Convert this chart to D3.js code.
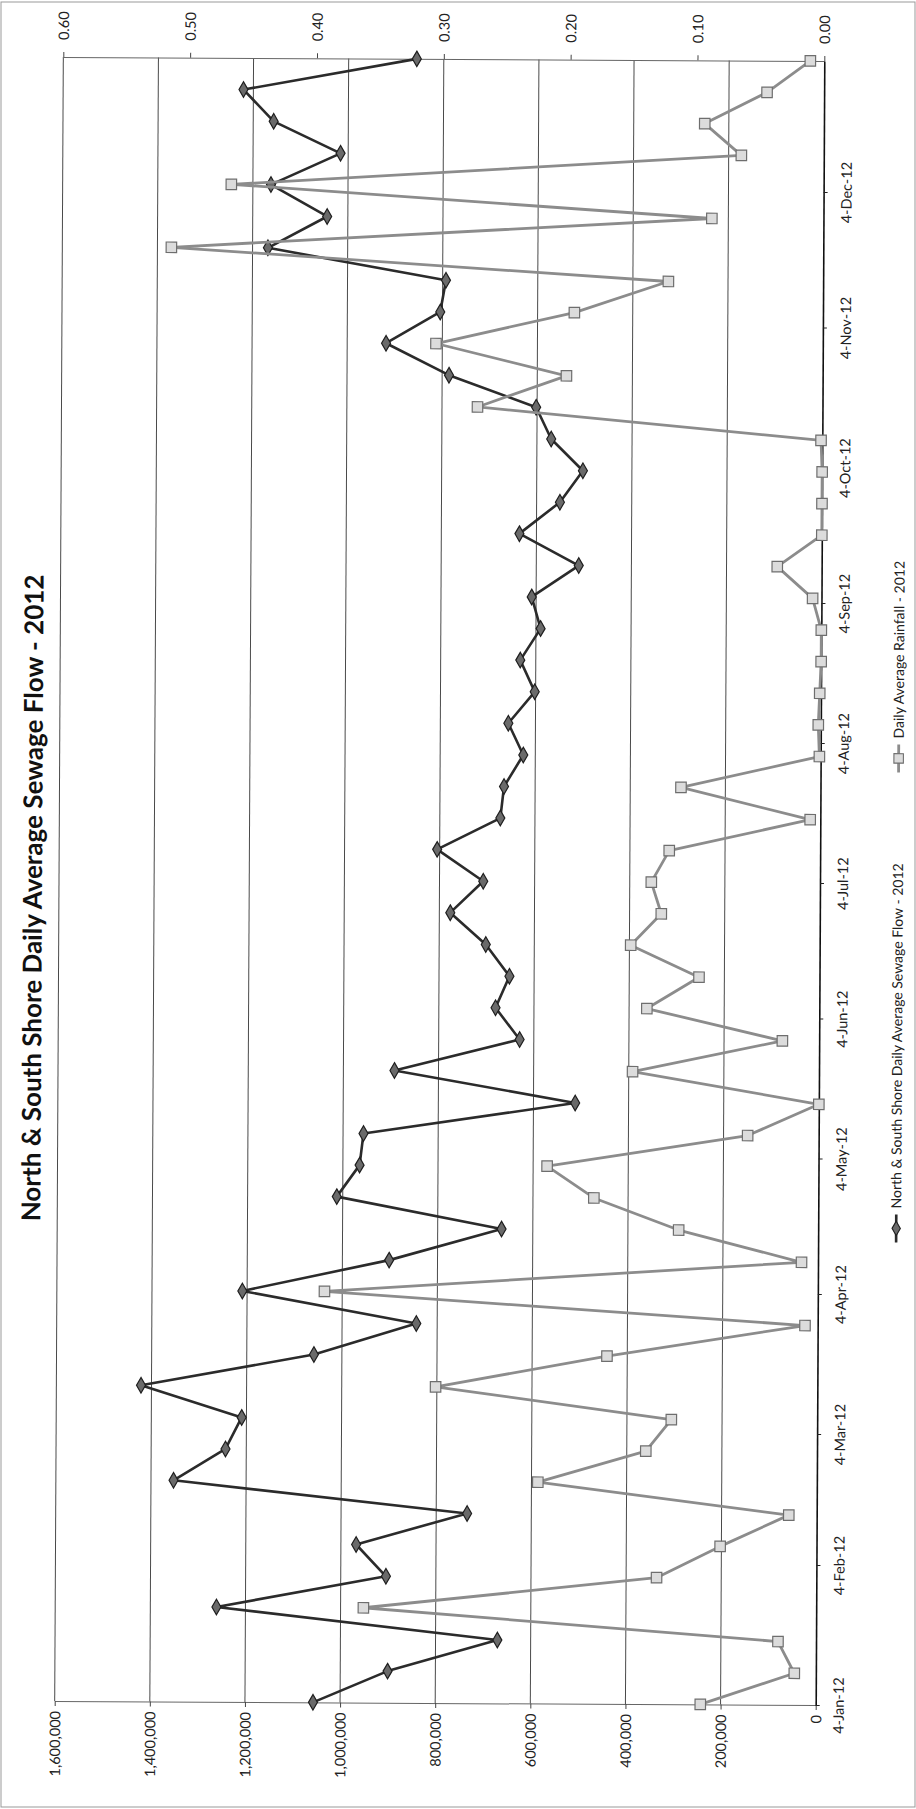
<!DOCTYPE html>
<html>
<head>
<meta charset="utf-8">
<script src="https://cdn.jsdelivr.net/npm/d3@7"></script>
<style>
  body { margin: 0; background: #fff; }
  text { font-family: Lato, "Liberation Sans", sans-serif; }
</style>
</head>
<body>
<div id="chart"></div>
<script>
// weekly readings, 2012
const weeks = [
  "2012-01-04", "2012-01-11", "2012-01-18", "2012-01-25", "2012-02-01", "2012-02-08",
  "2012-02-15", "2012-02-22", "2012-02-29", "2012-03-07", "2012-03-14", "2012-03-21",
  "2012-03-28", "2012-04-04", "2012-04-11", "2012-04-18", "2012-04-25", "2012-05-02",
  "2012-05-09", "2012-05-16", "2012-05-23", "2012-05-30", "2012-06-06", "2012-06-13",
  "2012-06-20", "2012-06-27", "2012-07-04", "2012-07-11", "2012-07-18", "2012-07-25",
  "2012-08-01", "2012-08-08", "2012-08-15", "2012-08-22", "2012-08-29", "2012-09-05",
  "2012-09-12", "2012-09-19", "2012-09-26", "2012-10-03", "2012-10-10", "2012-10-17",
  "2012-10-24", "2012-10-31", "2012-11-07", "2012-11-14", "2012-11-21", "2012-11-28",
  "2012-12-05", "2012-12-12", "2012-12-19", "2012-12-26", "2013-01-02"
];

const flow = [
  1057000, 900500, 670000, 1261000, 905000, 968000, 735000, 1352600, 1243700, 1210000,
  1422000, 1058800, 843900, 1210000, 901700, 665700, 1012500, 964900, 957000, 512300,
  892600, 629800, 680800, 651900, 702000, 777000, 708000, 805300, 672800, 665400,
  625200, 657000, 601900, 632600, 590200, 609300, 510700, 635800, 551000, 503000,
  570000, 602000, 785600, 918300, 804700, 793000, 1167700, 1043500, 1162000, 1016000,
  1157000, 1220800, 856700
];

const rain = [
  0.091, 0.017, 0.030, 0.357, 0.126, 0.076, 0.022, 0.220, 0.135, 0.115,
  0.301, 0.166, 0.010, 0.389, 0.013, 0.110, 0.177, 0.214, 0.056, 0.000,
  0.147, 0.029, 0.136, 0.095, 0.149, 0.125, 0.133, 0.119, 0.008, 0.110,
  0.001, 0.002, 0.001, 0.000, 0.000, 0.007, 0.035, 0.000, 0.000, 0.000,
  0.001, 0.272, 0.202, 0.305, 0.196, 0.122, 0.514, 0.088, 0.467, 0.065,
  0.094, 0.045, 0.011
];

const flowTicks = [0, 200000, 400000, 600000, 800000, 1000000, 1200000, 1400000, 1600000];
const rainTicks = [0, 0.1, 0.2, 0.3, 0.4, 0.5, 0.6];
const monthTicks = [
  "2012-01-04", "2012-02-04", "2012-03-04", "2012-04-04", "2012-05-04", "2012-06-04",
  "2012-07-04", "2012-08-04", "2012-09-04", "2012-10-04", "2012-11-04", "2012-12-04"
];

const title = "North & South Shore Daily Average Sewage Flow - 2012";
const seriesNames = ["North & South Shore Daily Average Sewage Flow - 2012", "Daily Average Rainfall - 2012"];

// the page is a scan turned on its side: dates run up the right edge
const width = 916, height = 1809;
const plot = { left: 59, right: 820, top: 59, bottom: 1703 };
const parse = d3.timeParse("%Y-%m-%d");

const svg = d3.select('#chart').append('svg')
    .attr('width', width)
    .attr('height', height);

svg.append('rect').attr('width', width).attr('height', height).attr('fill', '#fff');
svg.append('rect')
    .attr('x', 1).attr('y', 2).attr('width', width - 2).attr('height', height - 4)
    .attr('fill', 'none').attr('stroke', '#999').attr('stroke-width', 1);

// scanned sheet sits a little crooked
const g = svg.append('g').attr('transform', 'rotate(0.3, 440, 881)');

const yScale = d3.scaleTime()
    .domain([parse(weeks[0]), parse(weeks[weeks.length - 1])])
    .range([plot.bottom, plot.top]);
const xFlow = d3.scaleLinear().domain([0, 1600000]).range([plot.right, plot.left]);
const xRain = d3.scaleLinear().domain([0, 0.6]).range([plot.right, plot.left]);

// gridlines
g.selectAll('.grid')
    .data(flowTicks.filter(v => v > 0))
    .enter().append('line')
    .attr('class', 'grid')
    .attr('x1', d => xFlow(d)).attr('x2', d => xFlow(d))
    .attr('y1', plot.top).attr('y2', plot.bottom)
    .attr('stroke', '#4a4a4a').attr('stroke-width', 1);

const labelSize = 14.5;

// flow axis (bottom)
const flowAxis = g.append('g')
    .attr('transform', `translate(0, ${plot.bottom})`)
    .call(d3.axisBottom(xFlow).tickValues(flowTicks).tickFormat(d3.format(',')).tickSize(5).tickSizeOuter(0));
flowAxis.select('.domain').attr('stroke', '#666');
flowAxis.selectAll('line').attr('stroke', '#444');
flowAxis.selectAll('text')
    .attr('x', 0).attr('y', 0).attr('dy', '0.35em')
    .attr('transform', 'translate(0, 10) rotate(-90)')
    .attr('text-anchor', 'end')
    .attr('font-family', 'Lato').attr('font-size', labelSize).attr('fill', '#222');

// rainfall axis (top)
const rainAxis = g.append('g')
    .attr('transform', `translate(0, ${plot.top})`)
    .call(d3.axisTop(xRain).tickValues(rainTicks).tickFormat(d3.format('.2f')).tickSize(5).tickSizeOuter(0));
rainAxis.select('.domain').attr('stroke', '#666');
rainAxis.selectAll('line').attr('stroke', '#444');
rainAxis.selectAll('text')
    .attr('x', 0).attr('y', 0).attr('dy', '0.35em')
    .attr('transform', 'translate(0, -17) rotate(-90)')
    .attr('text-anchor', 'start')
    .attr('font-family', 'Lato').attr('font-size', labelSize).attr('fill', '#222');

// date axis (right)
const dateAxis = g.append('g')
    .attr('transform', `translate(${plot.right}, 0)`)
    .call(d3.axisRight(yScale).tickValues(monthTicks.map(parse))
        .tickFormat(d3.timeFormat('%-d-%b-%y')).tickSize(4).tickSizeOuter(0));
dateAxis.select('.domain').attr('stroke', '#111').attr('stroke-width', 1.6);
dateAxis.selectAll('line').attr('stroke', '#222');
dateAxis.selectAll('text')
    .attr('x', 0).attr('y', 0).attr('dy', '0.35em')
    .attr('transform', 'translate(23, 0) rotate(-90)')
    .attr('text-anchor', 'middle')
    .attr('font-family', 'Lato').attr('font-size', labelSize).attr('fill', '#222');

const flowData = weeks.map((w, i) => ({ date: parse(w), v: flow[i] }));
const rainData = weeks.map((w, i) => ({ date: parse(w), v: rain[i] }));

// flow series
g.append('path')
    .datum(flowData)
    .attr('fill', 'none')
    .attr('stroke', '#2b2b2b')
    .attr('stroke-width', 2.6)
    .attr('stroke-linejoin', 'round')
    .attr('d', d3.line().x(d => xFlow(d.v)).y(d => yScale(d.date)));

g.selectAll('.flow-pt')
    .data(flowData)
    .enter().append('path')
    .attr('class', 'flow-pt')
    .attr('transform', d => `translate(${xFlow(d.v)}, ${yScale(d.date)})`)
    .attr('d', d3.symbol(d3.symbolDiamond, 70))
    .attr('fill', '#6a6a6a')
    .attr('stroke', '#1e1e1e')
    .attr('stroke-width', 1.2);

// rainfall series
g.append('path')
    .datum(rainData)
    .attr('fill', 'none')
    .attr('stroke', '#8c8c8c')
    .attr('stroke-width', 2.8)
    .attr('stroke-linejoin', 'round')
    .attr('d', d3.line().x(d => xRain(d.v)).y(d => yScale(d.date)));

g.selectAll('.rain-pt')
    .data(rainData)
    .enter().append('path')
    .attr('class', 'rain-pt')
    .attr('transform', d => `translate(${xRain(d.v)}, ${yScale(d.date)})`)
    .attr('d', d3.symbol(d3.symbolSquare, 110))
    .attr('fill', '#dcdcdc')
    .attr('stroke', '#6e6e6e')
    .attr('stroke-width', 1.2);

// title
g.append('text')
    .attr('transform', 'translate(42, 900) rotate(-90)')
    .attr('text-anchor', 'middle')
    .attr('font-family', 'Lato').attr('font-weight', 'bold').attr('font-size', 26)
    .attr('fill', '#111')
    .text(title);

// legend
const legendX = 898;
const legend = g.append('g');
const entries = [
  { name: seriesNames[0], y: 1226, kind: 'flow' },
  { name: seriesNames[1], y: 756, kind: 'rain' }
];
entries.forEach(e => {
    const item = legend.append('g').attr('transform', `translate(${legendX}, ${e.y})`);
    item.append('line')
        .attr('x1', 0).attr('x2', 0).attr('y1', 14).attr('y2', -14)
        .attr('stroke', e.kind === 'flow' ? '#2b2b2b' : '#8c8c8c')
        .attr('stroke-width', e.kind === 'flow' ? 2.6 : 2.8);
    item.append('path')
        .attr('d', d3.symbol(e.kind === 'flow' ? d3.symbolDiamond : d3.symbolSquare, e.kind === 'flow' ? 60 : 90))
        .attr('fill', e.kind === 'flow' ? '#6a6a6a' : '#dcdcdc')
        .attr('stroke', e.kind === 'flow' ? '#1e1e1e' : '#6e6e6e')
        .attr('stroke-width', 1.1);
    item.append('text')
        .attr('transform', 'translate(0, -20) rotate(-90)')
        .attr('dy', '0.35em')
        .attr('text-anchor', 'start')
        .attr('font-family', 'Lato').attr('font-size', 14)
        .attr('fill', '#222')
        .text(e.name);
});
</script>
</body>
</html>
